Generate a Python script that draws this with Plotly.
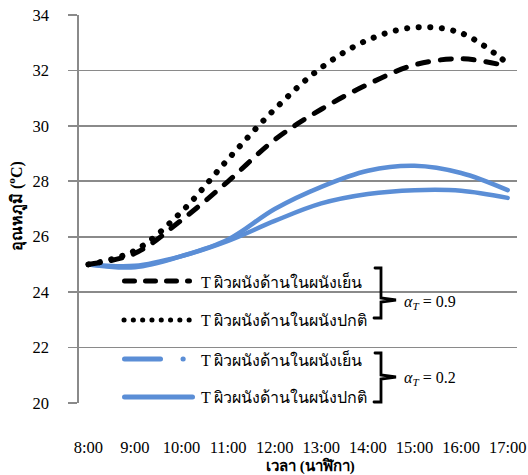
import plotly.graph_objects as go

# ---- data ----
times = ["8:00", "9:00", "10:00", "11:00", "12:00", "13:00", "14:00", "15:00", "16:00", "17:00"]
t_cold_09 = [25.0, 25.4, 26.6, 28.0, 29.5, 30.6, 31.5, 32.2, 32.42, 32.15]
t_norm_09 = [25.0, 25.5, 26.9, 28.8, 30.6, 32.1, 33.1, 33.55, 33.35, 32.25]
t_cold_02 = [25.0, 24.95, 25.3, 25.85, 26.57, 27.2, 27.54, 27.68, 27.66, 27.4]
t_norm_02 = [25.0, 24.9, 25.3, 25.9, 27.0, 27.8, 28.38, 28.56, 28.3, 27.68]
y_ticks = [20, 22, 24, 26, 28, 30, 32, 34]

legend_labels = ["T ผิวผนังด้านในผนังเย็น", "T ผิวผนังด้านในผนังปกติ",
                 "T ผิวผนังด้านในผนังเย็น", "T ผิวผนังด้านในผนังปกติ"]
alpha_labels = ["<i>α</i><sub><i>T</i></sub> = 0.9", "<i>α</i><sub><i>T</i></sub> = 0.2"]

BLUE = "#5B8ED6"
GRID = "#8a8a8a"
FONT = "Liberation Serif"

W, H = 528, 475
L, R, T, B = 79, 11, 15, 72
PW, PH = W - L - R, H - T - B


def px(x):
    return (x - L) / PW


def py(y):
    return (H - B - y) / PH


fig = go.Figure()
fig.add_trace(go.Scatter(x=times, y=t_cold_02, mode="lines", line=dict(color=BLUE, width=4.5, shape="spline"), showlegend=False))
fig.add_trace(go.Scatter(x=times, y=t_norm_02, mode="lines", line=dict(color=BLUE, width=4.5, shape="spline"), showlegend=False))
fig.add_trace(go.Scatter(x=times, y=t_cold_09, mode="lines", line=dict(color="black", width=5, dash="11px,12px", shape="spline"), showlegend=False))
fig.add_trace(go.Scatter(x=times, y=t_norm_09, mode="lines", line=dict(color="black", width=6, dash="0.1px,11.5px", shape="spline"), showlegend=False))

shapes = []
ann = []
rows = [281, 320, 359, 397]


def hline(x0, x1, y, color, width, dash="solid"):
    shapes.append(dict(type="line", xref="paper", yref="paper", x0=px(x0), x1=px(x1), y0=py(y), y1=py(y),
                       line=dict(color=color, width=width, dash=dash)))


hline(124.5, 189.5, rows[0], "black", 5, "10px,11px")
hline(124, 189.5, rows[1], "black", 5, "0.1px,9.2px")
hline(124.5, 160.5, rows[2], BLUE, 5)
hline(183, 183.2, rows[2], BLUE, 5)
hline(124.5, 192.5, rows[3], BLUE, 5)

for lab, yy in zip(legend_labels, rows):
    ann.append(dict(x=px(199), y=py(yy), xref="paper", yref="paper", text=lab, showarrow=False,
                    xanchor="left", yanchor="middle", font=dict(family=FONT, size=16, color="black")))


def brace(top, bot, mid):
    pts = [(375, top), (381, top), (381, mid - 2), (396, mid), (381, mid + 2), (381, bot), (374, bot)]
    path = "M " + " L ".join(f"{px(a):.5f},{py(b):.5f}" for a, b in pts)
    shapes.append(dict(type="path", xref="paper", yref="paper", path=path, line=dict(color="black", width=2.8)))


brace(268, 318, 300)
brace(353, 402, 377)
ann.append(dict(x=px(402), y=py(302), xref="paper", yref="paper", text=alpha_labels[0], showarrow=False,
                xanchor="left", yanchor="middle", font=dict(family=FONT, size=16, color="black")))
ann.append(dict(x=px(402), y=py(378), xref="paper", yref="paper", text=alpha_labels[1], showarrow=False,
                xanchor="left", yanchor="middle", font=dict(family=FONT, size=16, color="black")))

# axis titles
ann.append(dict(x=px(310), y=py(466), xref="paper", yref="paper", text="<b>เวลา (นาฬิกา)</b>", showarrow=False,
                xanchor="center", yanchor="middle", font=dict(family=FONT, size=15, color="black")))
ann.append(dict(x=px(16), y=py(206), xref="paper", yref="paper", text="<b>อุณหภูมิ (<sup>o</sup>C)</b>", showarrow=False,
                textangle=-90, xanchor="center", yanchor="middle", font=dict(family=FONT, size=16, color="black")))

fig.update_layout(
    width=W, height=H,
    margin=dict(l=L, r=R, t=T, b=B, pad=0, autoexpand=False),
    paper_bgcolor="white", plot_bgcolor="white",
    font=dict(family=FONT, size=16.5, color="black"),
    shapes=shapes, annotations=ann,
    showlegend=False,
)
fig.update_xaxes(type="category", range=[-0.2, 9.2], showgrid=False, showline=False, zeroline=False, automargin=False,
                 ticks="", ticklabelstandoff=32, tickfont=dict(family=FONT, size=16.5, color="black"))
fig.update_yaxes(range=[20, 34], tickvals=y_ticks, showgrid=True, gridcolor=GRID, gridwidth=1.6, automargin=False,
                 showline=True, linecolor=GRID, linewidth=1.6, zeroline=False,
                 ticks="outside", ticklen=9, tickcolor=GRID, tickwidth=1.6, ticklabelstandoff=16,
                 tickfont=dict(family=FONT, size=16.5, color="black"))

post = (
    "document.body.style.margin='0';document.body.style.padding='0';"
    "var gd=document.getElementById('{plot_id}');"
    "if(gd){gd.querySelectorAll('path.js-line').forEach(function(p){p.style.strokeLinecap='round';});"
    "gd.querySelectorAll('.shapelayer path').forEach(function(p){p.style.strokeLinecap='round';});}"
)
fig.write_html("out.html", config={"displayModeBar": False, "staticPlot": True}, post_script=post)
